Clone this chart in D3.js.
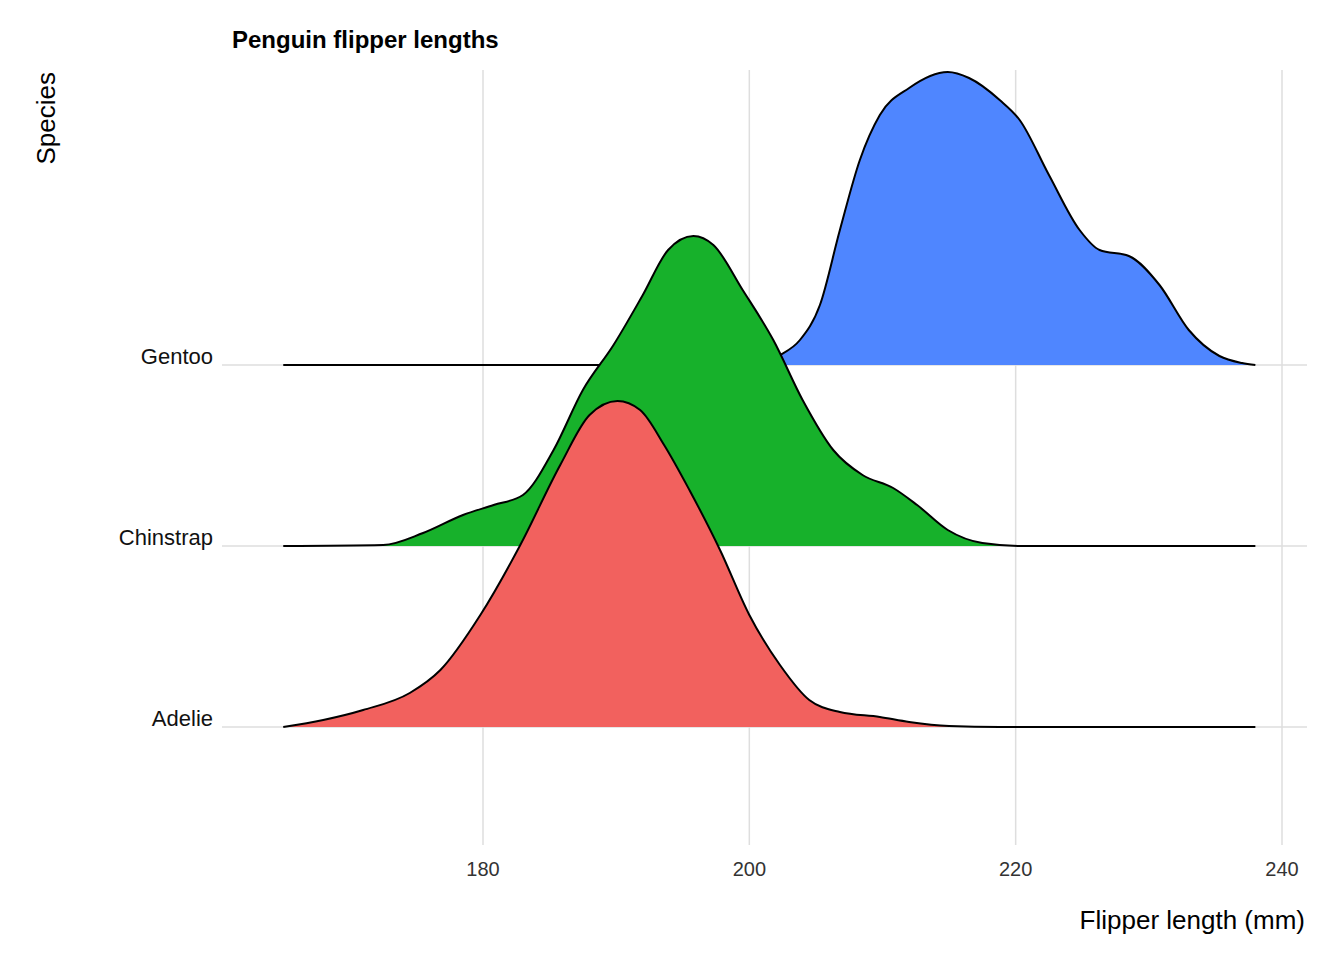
<!DOCTYPE html>
<html>
<head>
<meta charset="utf-8">
<script src="https://cdn.jsdelivr.net/npm/d3@7"></script>
<style>
  body { margin: 0; background: #fff; }
  text { font-family: "Liberation Sans", Arial, sans-serif; }
</style>
</head>
<body>
<script>
var w = 1344, h = 960;

var species = ["Adelie", "Chinstrap", "Gentoo"];
var colors = ["#F2615E", "#17B12B", "#4F86FF"];
var xTicks = [180, 200, 220, 240];

// flipper length (mm) and ridge height
var adelieX = [165, 168, 171, 174.5, 176.8, 179.8, 182.8, 185.8, 188, 190.1, 191.8, 193.6, 195.5, 197.8, 200, 202.3, 204.5, 206.8, 209.8, 212, 215, 218.8, 238];
var adelieY = [0, 7, 17, 34, 57, 112, 182, 262, 312, 326, 317, 282, 237, 177, 112, 62, 27, 15, 10, 5, 1, 0, 0];
var chinX = [165, 172.5, 175.5, 178.5, 180.8, 183, 185.3, 187.5, 189.8, 192, 193.9, 195.8, 197.3, 199.5, 201.8, 204, 206.3, 208.5, 210.8, 212.6, 214.9, 217.5, 220.5, 238];
var chinY = [0, 1, 13, 31, 41, 51, 96, 156, 201, 251, 296, 310, 301, 256, 206, 146, 96, 71, 58, 41, 16, 3, 0, 0];
var gentooX = [165, 199.5, 200.8, 202.3, 203.8, 205.3, 206.8, 208.3, 209.8, 212, 214.9, 216.5, 218.8, 220.3, 222.5, 224.8, 226.3, 228.5, 230.8, 233, 235.3, 237, 238];
var gentooY = [0, 0, 2, 10, 25, 60, 135, 205, 250, 277, 293, 287, 265, 245, 190, 135, 115, 109, 80, 35, 9, 2, 0];

var series = [
  { name: "Adelie", xs: adelieX, ys: adelieY },
  { name: "Chinstrap", xs: chinX, ys: chinY },
  { name: "Gentoo", xs: gentooX, ys: gentooY }
];

var svg = d3.select("body").append("svg").attr("width", w).attr("height", h);

var x = d3.scaleLinear().domain([180, 240]).range([483, 1282]);
var yBase = d3.scalePoint().domain(species).range([727, 365]);
var hScale = d3.scaleLinear().domain([0, 330]).range([0, 330]);

// grid
svg.selectAll(".vgrid").data(xTicks).enter().append("line")
  .attr("x1", d => x(d)).attr("x2", d => x(d))
  .attr("y1", 70).attr("y2", 845)
  .attr("stroke", "#dedede").attr("stroke-width", 1.5);
svg.selectAll(".hgrid").data(species).enter().append("line")
  .attr("x1", 222).attr("x2", 1307)
  .attr("y1", d => yBase(d)).attr("y2", d => yBase(d))
  .attr("stroke", "#dedede").attr("stroke-width", 1.5);

// ridges, back to front
series.slice().reverse().forEach(function(s) {
  var i = species.indexOf(s.name);
  var b = yBase(s.name);
  var pts = s.xs.map((v, k) => [v, s.ys[k]]);
  var area = d3.area().curve(d3.curveMonotoneX)
    .x(d => x(d[0])).y0(b).y1(d => b - hScale(d[1]));
  var line = d3.line().curve(d3.curveMonotoneX)
    .x(d => x(d[0])).y(d => b - hScale(d[1]));
  svg.append("path").datum(pts).attr("d", area).attr("fill", colors[i]);
  svg.append("path").datum(pts).attr("d", line)
    .attr("fill", "none").attr("stroke", "#000").attr("stroke-width", 2);
});

// tick labels
svg.selectAll(".xt").data(xTicks).enter().append("text")
  .attr("x", d => x(d)).attr("y", 876)
  .attr("text-anchor", "middle").attr("font-size", 20).attr("fill", "#333")
  .text(d => d);
svg.selectAll(".yt").data(species).enter().append("text")
  .attr("x", 213).attr("y", d => yBase(d) - 1)
  .attr("text-anchor", "end").attr("font-size", 22).attr("fill", "#111")
  .text(d => d);

svg.append("text").attr("x", 232).attr("y", 48)
  .attr("font-size", 24).attr("font-weight", "bold").text("Penguin flipper lengths");
svg.append("text").attr("transform", "translate(55,72) rotate(-90)")
  .attr("text-anchor", "end").attr("font-size", 26).text("Species");
svg.append("text").attr("x", 1305).attr("y", 929)
  .attr("text-anchor", "end").attr("font-size", 26).text("Flipper length (mm)");
</script>
</body>
</html>
